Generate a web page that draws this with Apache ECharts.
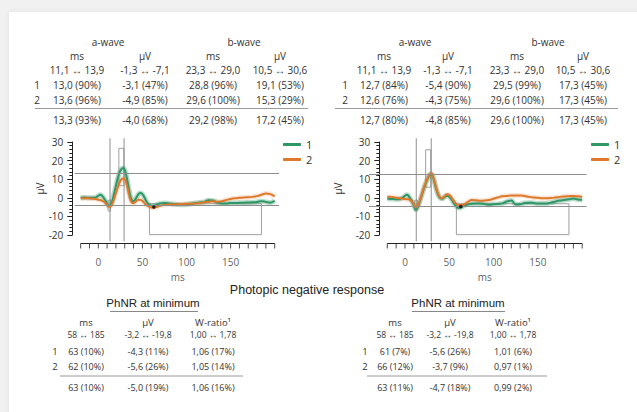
<!DOCTYPE html>
<html><head><meta charset="utf-8">
<script src="https://cdn.jsdelivr.net/npm/echarts/dist/echarts.min.js"></script>
<style>
html,body{margin:0;padding:0;width:637px;height:412px;overflow:hidden;background:#f1f1f1;}
#card{position:absolute;left:9px;top:12px;width:640px;height:420px;background:#fff;box-shadow:0 0 6px rgba(0,0,0,0.07);}
#chart{position:absolute;left:0;top:0;width:637px;height:412px;}
</style></head><body><div id="card"></div><div id="chart"></div>
<script>
// ---------- data ----------
const time = [-20,-15,-10,-5,-2,0,2,4,6,8,10,12,14,16,18,20,22,24,26,28,30,32,34,36,38,40,42,44,46,48,50,52,54,56,58,60,62,64,66,68,70,75,80,85,90,95,100,105,110,115,120,125,130,135,140,145,150,155,160,165,170,175,180,185,190,195,200];
const leftTrace1 = [0.0,0.1,0.0,0.0,0.4, 1.1,1.6,1.2,0.0,-1.5,-3.2,-4.3,-3.8,-1.5,2.5,6.5,10.5,13.5,15.3,16.0,15.0,11.5,6.5,1.5,-1.2,-1.8,-0.8,0.8,2.2,2.6,2.0,0.5,-1.5,-3.0,-3.8,-4.2,-4.3,-4.2,-3.8,-3.3,-3.0, -2.8,-3.0,-3.3,-3.6,-3.8,-3.6,-3.2,-2.8,-2.5,-2.2,-1.3,-1.5,-2.5,-3.0,-3.0,-2.8,-2.8,-2.7,-2.6,-2.5,-2.4,-2.2,-1.8,-2.2,-2.6,-1.6];
const leftTrace2 = [-0.3,-0.2,-0.3,-0.5,-0.8, -1.0,-1.2,-1.5,-2.0,-2.8,-3.8,-4.7,-4.6,-3.0,-0.5,2.5,5.5,8.0,9.8,10.4,10.0,7.5,3.5,-0.5,-2.6,-2.9,-2.2,-1.4,-1.0,-1.1,-1.7,-2.7,-3.7,-4.4,-4.9,-5.2,-5.4,-5.3,-5.0,-4.6,-4.3, -3.8,-3.6,-3.6,-3.5,-3.3,-3.2,-3.2,-3.0,-2.8,-2.4,-2.2,-1.8,-2.2,-1.8,-1.2,-0.6,-0.2,0.0,0.2,0.3,0.5,0.9,1.6,2.3,2.0,0.8];
const rightTrace1 = [-0.5,-0.6,-0.8,-0.5,0.3, 1.1,1.6,1.0,-0.5,-2.0,-4.2,-6.2,-5.5,-3.0,0.0,3.0,6.0,8.5,10.8,12.4,12.6,10.5,7.0,3.5,1.0,-0.2,-0.5,0.2,0.9,1.1,0.6,-0.5,-2.0,-3.5,-4.6,-5.4,-5.5,-5.0,-4.4,-4.0,-3.7, -3.2,-3.0,-3.0,-3.4,-3.8,-3.5,-3.3,-3.0,-2.0,-1.5,-3.6,-3.5,-2.8,-2.6,-2.8,-3.0,-3.0,-3.0,-2.6,-2.0,-1.5,-1.2,-0.8,-0.4,-0.9,-1.0];
const rightTrace2 = [0.6,0.5,0.0,-0.3,-0.5, -0.7,-0.8,-0.8,-1.2,-2.0,-3.5,-5.2,-4.8,-2.5,0.5,3.5,6.5,9.0,11.0,12.8,13.1,11.0,7.5,4.0,1.5,0.0,-0.3,0.5,1.5,1.9,1.5,0.5,-1.0,-2.3,-3.3,-3.8,-3.9,-3.8,-3.7,-3.2,-2.5, -1.2,-1.3,-1.6,-1.5,-1.2,-0.5,0.2,0.8,1.0,1.2,1.3,1.2,1.0,0.5,0.2,0.0,-0.2,-0.3,-0.1,0.2,0.5,0.7,0.9,1.0,0.8,0.5];

// normal ranges
const aMsRange = [11.1, 13.9];
const aUvRange = [-1.3, -7.1];
const bMsRange = [23.3, 29.0];
const bUvRange = [10.5, 30.6];
const phnrMsRange = [58, 185];
const phnrUvRange = [-3.2, -19.8];
// means [a ms, a µV, b ms, b µV, PhNR ms, PhNR µV]
const leftMeans = [13.3, -4.0, 29.2, 17.2, 63, -5.0];
const rightMeans = [12.7, -4.8, 29.6, 17.3, 63, -4.7];

const xTicks = [0, 50, 100, 150];
const xTickMarks = [-20,-10,0,10,20,30,40,50,60,70,80,90,100,110,120,130,140,150,160,170,180,190,200];
const yTicks = [-20, -10, 0, 10, 20, 30];
const legendNames = ['1', '2'];

// table texts
const waveHeaders = ['a-wave', 'b-wave'];
const waveCols = ['ms', 'µV', 'ms', 'µV'];
const leftWaveRows = [
  ['', '11,1 ↔ 13,9', '-1,3 ↔ -7,1', '23,3 ↔ 29,0', '10,5 ↔ 30,6'],
  ['1', '13,0 (90%)', '-3,1 (47%)', '28,8 (96%)', '19,1 (53%)'],
  ['2', '13,6 (96%)', '-4,9 (85%)', '29,6 (100%)', '15,3 (29%)'],
  ['', '13,3 (93%)', '-4,0 (68%)', '29,2 (98%)', '17,2 (45%)']
];
const rightWaveRows = [
  ['', '11,1 ↔ 13,9', '-1,3 ↔ -7,1', '23,3 ↔ 29,0', '10,5 ↔ 30,6'],
  ['1', '12,7 (84%)', '-5,4 (90%)', '29,5 (99%)', '17,3 (45%)'],
  ['2', '12,6 (76%)', '-4,3 (75%)', '29,6 (100%)', '17,3 (45%)'],
  ['', '12,7 (80%)', '-4,8 (85%)', '29,6 (100%)', '17,3 (45%)']
];
const sectionTitle = 'Photopic negative response';
const phnrHeader = 'PhNR at minimum';
const phnrCols = ['ms', 'µV', 'W-ratio¹'];
const leftPhnrRows = [
  ['', '58 ↔ 185', '-3,2 ↔ -19,8', '1,00 ↔ 1,78'],
  ['1', '63 (10%)', '-4,3 (11%)', '1,06 (17%)'],
  ['2', '62 (10%)', '-5,6 (26%)', '1,05 (14%)'],
  ['', '63 (10%)', '-5,0 (19%)', '1,06 (16%)']
];
const rightPhnrRows = [
  ['', '58 ↔ 185', '-3,2 ↔ -19,8', '1,00 ↔ 1,78'],
  ['1', '61 (7%)', '-5,6 (26%)', '1,01 (6%)'],
  ['2', '66 (12%)', '-3,7 (9%)', '0,97 (1%)'],
  ['', '63 (11%)', '-4,7 (18%)', '0,99 (2%)']
];

// ---------- layout ----------
const GREEN = '#2f9666', ORANGE = '#e0782c';
const FONT = '"Open Sans", "Noto Sans", sans-serif';
const AX = '#222';
const REF = '#8e8e8e';
const panels = [
  {x0: 98.3, kx: 0.882, y0: 197.8, ky: 1.86, pMin: -26.5, pMax: 205, yAxisX: 72.3, nameGap: 25,
   t1: leftTrace1, t2: leftTrace2, means: leftMeans, legendLeft: 283},
  {x0: 405, kx: 0.886, y0: 197.8, ky: 1.86, pMin: -40.6, pMax: 205, yAxisX: 379.3, nameGap: 36,
   t1: rightTrace1, t2: rightTrace2, means: rightMeans, legendLeft: 591}
];
const yPlotMin = -23.4, yPlotMax = 32, yGridLow = -28, xAxMin = -20, xAxMax = 200, yAxMin = -20, yAxMax = 30;
const xAxisLineY = 243.5;

const grid = [], xAxis = [], yAxis = [], series = [], legend = [];
const pair = arr => arr.map((v, i) => [time[i], v]);
const hidden = (gi, min, max) => ({gridIndex: gi, type: 'value', min: min, max: max, show: false});

panels.forEach((p, k) => {
  // plot grid (data) - extends below the reference-line area so the x-axis lies inside it
  const gA = grid.length;
  grid.push({left: p.x0 + p.pMin * p.kx, width: (p.pMax - p.pMin) * p.kx,
             top: p.y0 - yPlotMax * p.ky, height: (yPlotMax - yGridLow) * p.ky, containLabel: false, outerBoundsMode: 'none'});
  xAxis.push(hidden(gA, p.pMin, p.pMax));
  yAxis.push(hidden(gA, yGridLow, yPlotMax));
  const axisVal = (p.y0 - xAxisLineY) / p.ky;   // µV value at the x-axis line position

  // x-axis: line, ticks, tick labels and title drawn through the x scale
  series.push({type: 'line', xAxisIndex: gA, yAxisIndex: gA, name: 'xaxisline' + k, silent: true, z: 10, clip: false,
    data: [[xAxMin, axisVal], [xAxMax, axisVal]], showSymbol: false, lineStyle: {color: AX, width: 1}});
  series.push({type: 'scatter', xAxisIndex: gA, yAxisIndex: gA, name: 'xaxisticks' + k, clip: false, silent: true, z: 10,
    data: xTickMarks.map(v => [v, axisVal]), symbol: 'rect', symbolSize: [1, 5], symbolOffset: [0, 2.5],
    itemStyle: {color: AX}});
  series.push({type: 'scatter', xAxisIndex: gA, yAxisIndex: gA, name: 'xaxislabels' + k, clip: false, silent: true, z: 10,
    data: xTicks.map(v => [v, axisVal]), symbolSize: 0, itemStyle: {color: 'rgba(0,0,0,0)'},
    label: {show: true, position: 'bottom', distance: 13, color: '#333', fontSize: 10, fontFamily: FONT,
      formatter: d => String(d.value[0])}});
  series.push({type: 'scatter', xAxisIndex: gA, yAxisIndex: gA, name: 'xaxisname' + k, clip: false, silent: true, z: 10,
    data: [[(xAxMin + xAxMax) / 2, axisVal]], symbolSize: 0, itemStyle: {color: 'rgba(0,0,0,0)'},
    label: {show: true, position: 'bottom', distance: 28, color: '#333', fontSize: 10, fontFamily: FONT,
      formatter: 'ms'}});

  // y-axis grid
  const gY = grid.length;
  grid.push({left: p.yAxisX, width: 20, top: p.y0 - yAxMax * p.ky, height: (yAxMax - yAxMin) * p.ky,
             containLabel: false, outerBoundsMode: 'none'});
  xAxis.push(hidden(gY, 0, 1));
  yAxis.push({gridIndex: gY, type: 'value', min: yAxMin, max: yAxMax, interval: 10, position: 'left',
    splitLine: {show: false},
    axisLine: {show: true, lineStyle: {color: AX, width: 1}},
    axisTick: {show: true, length: 5, lineStyle: {color: AX}},
    minorTick: {show: true, splitNumber: 5, length: 3, lineStyle: {color: AX}},
    minorSplitLine: {show: false},
    axisLabel: {margin: 9, color: '#333', fontSize: 10, fontFamily: FONT,
      formatter: v => yTicks.includes(v) ? String(v) : ''},
    name: 'µV', nameLocation: 'middle', nameGap: p.nameGap, nameRotate: 90,
    nameTextStyle: {color: '#333', fontSize: 10, fontFamily: FONT}});

  const m = p.means;
  [m[0], m[2]].forEach((xv, j) => {
    series.push({type: 'line', xAxisIndex: gA, yAxisIndex: gA, name: 'vref' + k + j, silent: true, z: 1,
      data: [[xv, yPlotMin], [xv, yPlotMax]], showSymbol: false, lineStyle: {color: REF, width: 1}});
  });
  series.push({type: 'scatter', xAxisIndex: gA, yAxisIndex: gA, name: 'PhNR' + k,
    data: [[m[4], m[5]]], symbolSize: 3.5, itemStyle: {color: '#000'}, silent: true, z: 5,
    markLine: {silent: true, symbol: 'none', label: {show: false},
      lineStyle: {color: REF, width: 1, type: 'solid'},
      data: [{yAxis: m[1]}, {yAxis: m[1] + m[3]}]},
    markArea: {silent: true, itemStyle: {color: 'rgba(0,0,0,0)', borderColor: '#a0a0a0', borderWidth: 1},
      data: [
        [{xAxis: aMsRange[0], yAxis: aUvRange[0]}, {xAxis: aMsRange[1], yAxis: aUvRange[1]}],
        [{xAxis: bMsRange[0], yAxis: m[1] + bUvRange[0]}, {xAxis: bMsRange[1], yAxis: m[1] + bUvRange[1]}],
        [{xAxis: phnrMsRange[0], yAxis: phnrUvRange[0]}, {xAxis: phnrMsRange[1], yAxis: phnrUvRange[1]}]
      ]}});
  [[p.t1, 'rgba(47,150,102,0.33)'], [p.t2, 'rgba(224,120,44,0.18)']].forEach(([t, c], j) => {
    series.push({type: 'line', xAxisIndex: gA, yAxisIndex: gA, name: 'halo' + k + j, data: pair(t),
      smooth: 0.35, showSymbol: false, silent: true, lineStyle: {color: c, width: 5}, z: 2});
  });
  [[p.t1, GREEN, '1'], [p.t2, ORANGE, '2']].forEach(([t, c, n]) => {
    series.push({type: 'line', xAxisIndex: gA, yAxisIndex: gA, name: n, data: pair(t), color: c,
      smooth: 0.35, showSymbol: false, silent: true, lineStyle: {color: c, width: 2}, z: 3});
  });
  legend.push({data: legendNames, orient: 'vertical', left: p.legendLeft, top: 139, itemWidth: 18, itemHeight: 3,
    itemGap: 4, icon: 'roundRect', padding: 0, textStyle: {color: '#333', fontSize: 11, fontFamily: FONT, lineHeight: 10}, selectedMode: false});
});

// ---------- table texts ----------
const g = [];
function txt(x, y, s, size, extra) {
  g.push({type: 'text', x: x, y: y, silent: true,
    style: Object.assign({text: s, fill: '#333', font: (size || 9.5) + 'px ' + FONT, align: 'center', verticalAlign: 'middle'}, extra || {})});
}
function rule(x1, x2, y, c) {
  g.push({type: 'line', silent: true, shape: {x1: x1, y1: y, x2: x2, y2: y}, style: {stroke: c || '#9a9a9a', lineWidth: 1}});
}
function waveTable(labelX, colX, headX, rows, ruleX) {
  txt(headX[0], 42, waveHeaders[0], 10);
  txt(headX[1], 42, waveHeaders[1], 10);
  waveCols.forEach((c, i) => txt(colX[i], 55.5, c, 10));
  const ys = [69.5, 84.5, 100, 120];
  rows.forEach((r, ri) => {
    if (r[0]) txt(labelX, ys[ri], r[0], 10);
    for (let i = 1; i < r.length; i++) txt(colX[i - 1], ys[ri], r[i], 10);
  });
  rule(ruleX[0], ruleX[1], 108.5);
}
waveTable(37, [77, 145, 213, 280], [108, 244], leftWaveRows, [35, 308]);
waveTable(345, [384, 448, 517, 583], [415, 548], rightWaveRows, [335, 618]);

txt(307, 290, sectionTitle, 12.5, {font: '12.5px "Liberation Sans", Arial, sans-serif', fill: '#222'});
function phnrTable(labelX, colX, headX, ulX, rows, ruleX) {
  txt(headX, 303, phnrHeader, 11.5, {font: '11.5px "Liberation Sans", Arial, sans-serif', fill: '#222'});
  rule(ulX[0], ulX[1], 311.5, '#888');
  phnrCols.forEach((c, i) => txt(colX[i], 322, c, 9.5));
  const ys = [334.5, 351, 366.5, 387];
  rows.forEach((r, ri) => {
    if (r[0]) txt(labelX, ys[ri], r[0], 9.5);
    for (let i = 1; i < r.length; i++) txt(colX[i - 1], ys[ri], r[i], ri === 0 ? 8.5 : 9);
  });
  rule(ruleX[0], ruleX[1], 376);
}
phnrTable(55, [86, 148, 213], 153, [110, 198], leftPhnrRows, [60, 243]);
phnrTable(365, [395, 450, 513], 458, [412, 505], rightPhnrRows, [367, 547]);

const chart = echarts.init(document.getElementById('chart'), null, {renderer: 'svg'});
chart.setOption({
  animation: false,
  backgroundColor: 'transparent',
  grid: grid, xAxis: xAxis, yAxis: yAxis, series: series, legend: legend,
  graphic: {elements: g}
});
</script></body></html>
